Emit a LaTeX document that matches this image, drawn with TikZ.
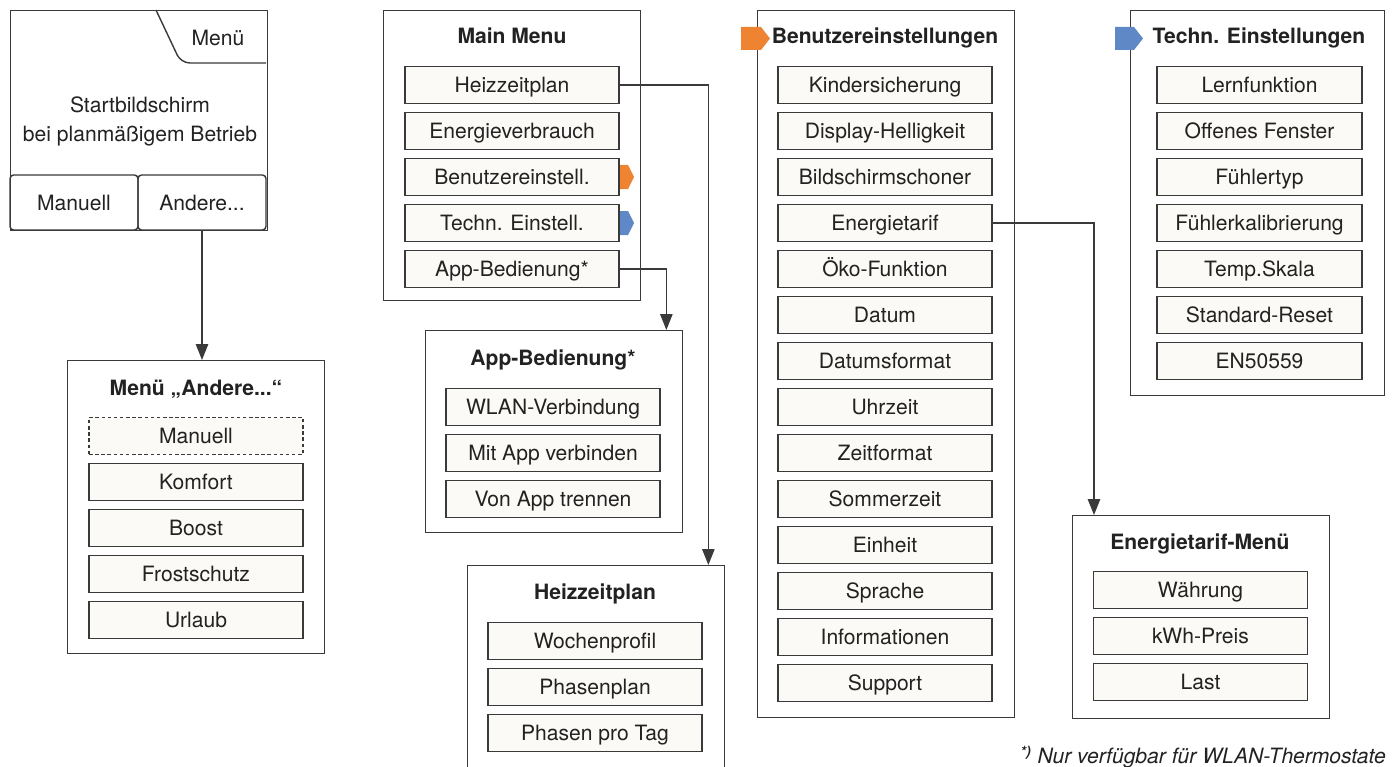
\documentclass[tikz,border=0pt]{standalone}
\usepackage{fontspec}
\setmainfont{TeX Gyre Heros}
\usetikzlibrary{arrows.meta}

\definecolor{itemfill}{HTML}{FCFAF6}
\definecolor{tagorange}{HTML}{EE8431}
\definecolor{tagblue}{HTML}{5E88C6}
\definecolor{linegray}{HTML}{3A3A3A}
\definecolor{textgray}{HTML}{222222}

\tikzset{
  panel/.style={draw=linegray, line width=0.8pt, fill=white, anchor=north west,
    minimum width=5.14cm, inner sep=0pt},
  item/.style={draw=linegray, line width=0.8pt, fill=itemfill, minimum width=4.28cm,
    minimum height=0.74cm, inner sep=0pt, text height=0.92em, text depth=0.06em,
    text=textgray, font=\fontsize{12}{14}\selectfont},
  button/.style={draw=linegray, line width=0.8pt, rounded corners=2pt, minimum width=2.56cm,
    minimum height=1.1cm, inner sep=0pt, text height=0.92em, text depth=0.06em,
    text=textgray, font=\fontsize{12}{14}\selectfont},
  head/.style={text height=0.92em, text depth=0.06em, text=textgray,
    font=\fontsize{12}{14}\selectfont\bfseries},
  plain/.style={text=textgray, font=\fontsize{12}{16.5}\selectfont},
  conn/.style={draw=linegray, line width=0.8pt, -{Triangle[length=9pt,width=7pt]}},
}

\begin{document}
\begin{tikzpicture}[x=0.02cm,y=-0.02cm]
\useasboundingbox (0,0) rectangle (1397,767);

% start screen
\node[panel, minimum height=4.4cm] (start) at (10,10) {};
\draw[linegray, line width=0.8pt, rounded corners=5pt] (156,10) -- (181,63) -- (266,63);
\node[plain] (menu) at (218,38) {Menü};
\node[plain, align=center] (starttext) at (140,121) {Startbildschirm\\bei planmäßigem Betrieb};
\node[button] (manuell) at (74,202.5) {Manuell};
\node[button] (andere) at (202,202.5) {Andere...};

% menu andere
\node[panel, minimum height=5.86cm] (andpanel) at (67,360) {};
\node[head] (andtitle) at (196,388) {Menü „Andere...“};
\node[item, dash pattern=on 2pt off 1.5pt] (and1) at (196,436) {Manuell};
\foreach \t [count=\i from 2] in {Komfort,Boost,Frostschutz,Urlaub}
  \node[item] (and\i) at (196,{390+46*\i}) {\t};

% main menu
\node[panel, minimum height=5.8cm] (mmpanel) at (383,10) {};
\node[head] (mmtitle) at (512,36) {Main Menu};
\foreach \t [count=\i] in {Heizzeitplan,Energieverbrauch,Benutzereinstell.,Techn. Einstell.,App-Bedienung*}
  \node[item] (mm\i) at (512,{39+46*\i}) {\t};

% app
\node[panel, minimum height=4.04cm] (apppanel) at (425,330) {};
\node[head] (apptitle) at (553,358) {App-Bedienung*};
\foreach \t [count=\i] in {WLAN-Verbindung,Mit App verbinden,Von App trennen}
  \node[item] (app\i) at (553,{361+46*\i}) {\t};

% heizzeitplan
\node[panel, minimum height=4.2cm] (hzpanel) at (467,565) {};
\node[head] (hztitle) at (595,592) {Heizzeitplan};
\foreach \t [count=\i] in {Wochenprofil,Phasenplan,Phasen pro Tag}
  \node[item] (hz\i) at (595,{595+46*\i}) {\t};

% benutzereinstellungen
\node[panel, minimum height=14.14cm] (bepanel) at (757,10) {};
\node[head] (betitle) at (885,36) {Benutzereinstellungen};
\foreach \t [count=\i] in {Kindersicherung,Display-Helligkeit,Bildschirmschoner,Energietarif,
    Öko-Funktion,Datum,Datumsformat,Uhrzeit,Zeitformat,Sommerzeit,Einheit,Sprache,
    Informationen,Support}
  \node[item] (be\i) at (885,{39+46*\i}) {\t};

% techn. einstellungen
\node[panel, minimum width=5.08cm, minimum height=7.7cm] (tepanel) at (1130,10) {};
\node[head] (tetitle) at (1259,36) {Techn. Einstellungen};
\foreach \t [count=\i] in {Lernfunktion,Offenes Fenster,Fühlertyp,Fühlerkalibrierung,
    Temp.Skala,Standard-Reset,EN50559}
  \node[item, minimum width=4.1cm] (te\i) at (1259.5,{39+46*\i}) {\t};

% energietarif
\node[panel, minimum height=4.06cm] (etpanel) at (1072,515) {};
\node[head] (ettitle) at (1200,542) {Energietarif-Menü};
\foreach \t [count=\i] in {Währung,kWh-Preis,Last}
  \node[item] (et\i) at (1200.5,{544+46*\i}) {\t};

% tags
\fill[tagorange] (620,165) -- (628,165) -- (634,177) -- (628,189) -- (620,189) -- cycle;
\fill[tagblue] (620,211) -- (628,211) -- (634,223) -- (628,235) -- (620,235) -- cycle;
\fill[tagorange] (741,27) -- (761,27) -- (770,38.5) -- (761,50) -- (741,50) -- cycle;
\fill[tagblue] (1115,27) -- (1134,27) -- (1143,38.5) -- (1134,50) -- (1115,50) -- cycle;

% connectors
\draw[conn] (andere.south) -- (andere.south |- andpanel.north);
\draw[conn] (mm1.east) -| ([xshift=-0.34cm]hzpanel.north east);
\draw[conn] (mm5.east) -| ([xshift=-0.34cm]apppanel.north east);
\draw[conn] (be4.east) -| ([xshift=0.44cm]etpanel.north west);

\node[anchor=east, text=textgray, font=\fontsize{12}{14}\selectfont\itshape] (note) at (1392,757)
  {\textsuperscript{\bfseries*)} Nur verfügbar für WLAN-Thermostate};
\end{tikzpicture}
\end{document}
